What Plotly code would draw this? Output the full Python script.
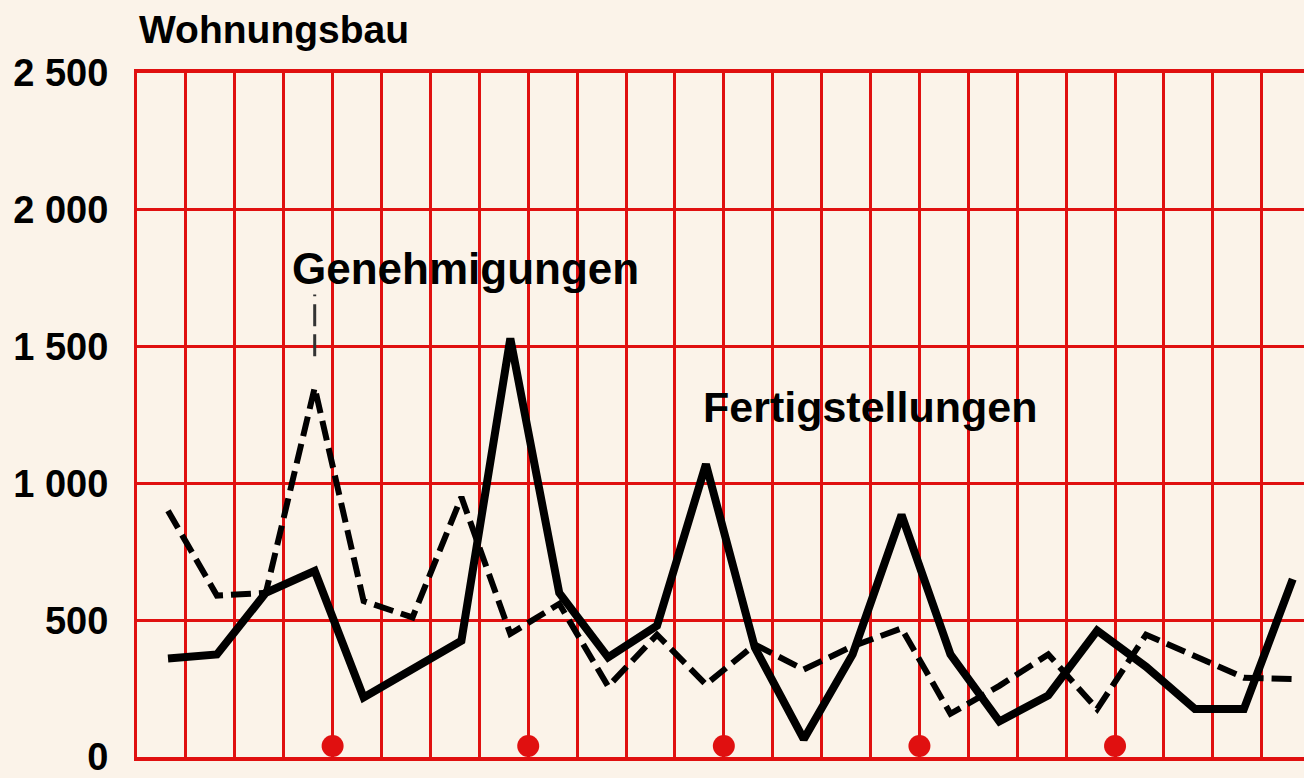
import plotly.graph_objects as go

# Wohnungsbau: Fertigstellungen (solid) and Genehmigungen (dashed)
periode = list(range(24))
fertigstellungen = [360, 375, 600, 680, 218, 320, 425, 1530, 600, 364, 480, 1070,
                    400, 65, 375, 885, 375, 130, 225, 462, 330, 175, 175, 650]
genehmigungen = [900, 590, 600, 1350, 570, 510, 950, 450, 560, 258, 447, 265,
                 411, 320, 405, 470, 158, 260, 375, 175, 447, 370, 290, 285]
jahresmarken = [4, 8, 12, 16, 20]   # grid columns with red dot
y_ticks = [0, 500, 1000, 1500, 2000, 2500]
y_labels = ["0", "500", "1 000", "1 500", "2 000", "2 500"]

RED = "#E01010"
BG = "#FBF3E9"
FONT = "Liberation Sans"
offset = 0.634  # grid columns are shifted against the data points

grid_x = [i - offset for i in range(25)]

fig = go.Figure()

fig.add_trace(go.Scatter(
    x=periode, y=genehmigungen, mode="lines",
    line=dict(color="black", width=6, dash="20px,8px"),
    name="Genehmigungen",
))
fig.add_trace(go.Scatter(
    x=periode, y=fertigstellungen, mode="lines",
    line=dict(color="black", width=8),
    name="Fertigstellungen",
))
fig.add_trace(go.Scatter(
    x=[m - offset for m in jahresmarken], y=[40] * len(jahresmarken),
    mode="markers", marker=dict(color=RED, size=22, line=dict(width=0)),
    cliponaxis=False, name="Jahr",
))

# dashed leader line to the Genehmigungen peak
fig.add_shape(type="line", x0=3, x1=3, y0=1465, y1=1690,
              line=dict(color="#333333", width=3, dash="22px,8px"))

fig.add_annotation(x=6.09, y=1787, text="Genehmigungen", showarrow=False,
                   font=dict(family=FONT, size=44, color="black", weight="bold"))
fig.add_annotation(x=14.36, y=1281, text="Fertigstellungen", showarrow=False,
                   font=dict(family=FONT, size=43, color="black", weight="bold"))
fig.add_annotation(xref="paper", yref="paper", x=0, y=1.064, xanchor="left",
                   yanchor="middle", text="Wohnungsbau", showarrow=False,
                   font=dict(family=FONT, size=39, color="black", weight="bold"))

fig.update_xaxes(
    range=[-offset, 23.23], tickvals=grid_x, showticklabels=False, ticks="",
    showgrid=True, gridcolor=RED, gridwidth=3, zeroline=False,
    showline=True, linecolor=RED, linewidth=4, mirror=True,
)
fig.update_yaxes(
    range=[0, 2500], tickvals=y_ticks, ticktext=y_labels, ticks="",
    showgrid=True, gridcolor=RED, gridwidth=3, zeroline=False,
    showline=True, linecolor=RED, linewidth=3, ticklabelstandoff=18,
    ticklabeloverflow="allow",
    tickfont=dict(family=FONT, size=38, color="black", weight="bold"),
)

fig.update_layout(
    width=1304, height=778,
    margin=dict(l=137, r=0, t=73, b=18),
    paper_bgcolor=BG, plot_bgcolor=BG,
    showlegend=False,
)

# drop the default body margin so the figure fills the window
fig.write_html(
    "out.html",
    config={"displayModeBar": False},
    post_script="document.body.style.margin='0';"
                "document.body.style.background='#FBF3E9';",
)
